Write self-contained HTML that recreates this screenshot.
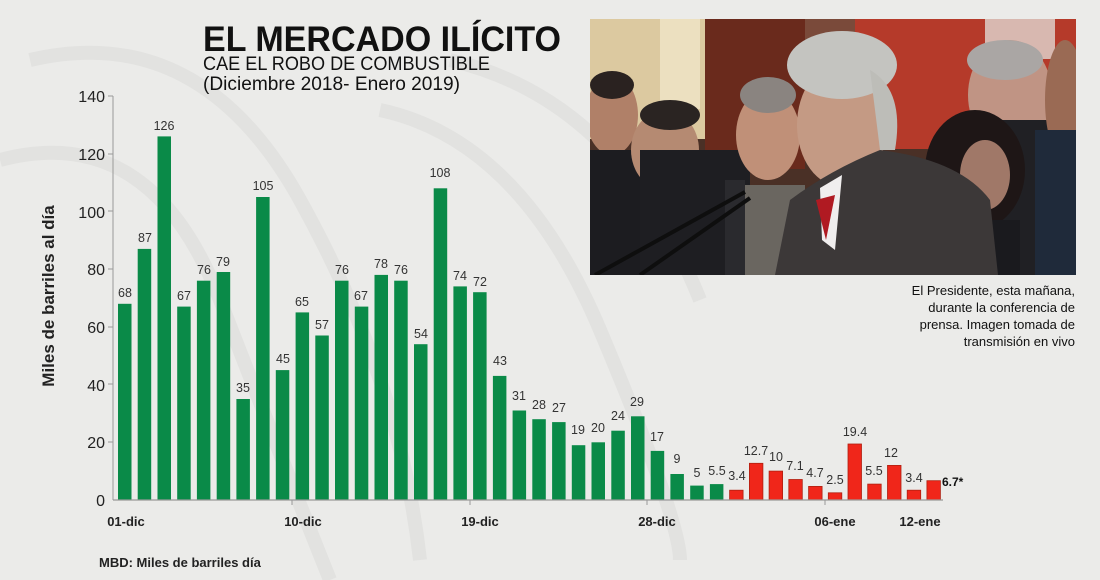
<!DOCTYPE html>
<html><head><meta charset="utf-8"><style>
body{margin:0;width:1100px;height:580px;background:#ebebe9;overflow:hidden;font-family:"Liberation Sans",sans-serif;}
</style></head><body>
<svg width="1100" height="580" xmlns="http://www.w3.org/2000/svg" style="position:absolute;left:0;top:0">
<g fill="none" stroke="#e2e2e0" stroke-width="14">
<path d="M30 60 Q200 20 300 200 T420 560"/>
<path d="M0 160 Q150 120 220 300 T330 580"/>
<path d="M380 110 Q520 140 600 330 T680 560"/>
<path d="M450 60 Q620 100 700 300"/>
</g>
<text x="203" y="51" font-size="35" font-weight="bold" fill="#111" textLength="358" lengthAdjust="spacingAndGlyphs">EL MERCADO ILÍCITO</text>
<text x="203" y="70" font-size="19" fill="#111" textLength="287" lengthAdjust="spacingAndGlyphs">CAE EL ROBO DE COMBUSTIBLE</text>
<text x="203" y="90" font-size="19" fill="#111" textLength="257" lengthAdjust="spacingAndGlyphs">(Diciembre 2018- Enero 2019)</text>

<!-- photo -->
<svg x="590" y="19" width="486" height="256" viewBox="590 19 486 256">
<rect x="590" y="19" width="486" height="256" fill="#4a3026"/>
<rect x="590" y="19" width="120" height="120" fill="#dcc9a0"/>
<rect x="660" y="19" width="40" height="90" fill="#ece0c0"/>
<rect x="705" y="19" width="100" height="150" fill="#6a2a1c"/>
<rect x="805" y="19" width="60" height="100" fill="#7a4a3a"/>
<rect x="855" y="19" width="221" height="130" fill="#b53a2a"/>
<rect x="985" y="19" width="70" height="40" fill="#d8b8b0"/>
<ellipse cx="612" cy="115" rx="26" ry="40" fill="#b08068"/>
<ellipse cx="612" cy="85" rx="22" ry="14" fill="#2a2220"/>
<rect x="590" y="150" width="80" height="125" fill="#1c1c20"/>
<ellipse cx="665" cy="150" rx="34" ry="40" fill="#b58a72"/>
<ellipse cx="670" cy="115" rx="30" ry="15" fill="#2a2422"/>
<rect x="640" y="150" width="110" height="125" fill="#1e1e22"/>
<ellipse cx="768" cy="135" rx="32" ry="45" fill="#c09078"/>
<ellipse cx="768" cy="95" rx="28" ry="18" fill="#8a8480"/>
<rect x="735" y="185" width="70" height="90" fill="#6a6660"/>
<rect x="725" y="180" width="20" height="95" fill="#2a2a2e"/>
<ellipse cx="1010" cy="95" rx="42" ry="55" fill="#c09484"/>
<ellipse cx="1005" cy="60" rx="38" ry="20" fill="#aaa6a4"/>
<rect x="1000" y="120" width="60" height="155" fill="#202024"/>
<ellipse cx="975" cy="170" rx="50" ry="60" fill="#1e1616"/>
<ellipse cx="985" cy="175" rx="25" ry="35" fill="#a07868"/>
<rect x="950" y="220" width="70" height="55" fill="#1a1a1e"/>
<ellipse cx="1065" cy="100" rx="20" ry="60" fill="#9a6a54"/>
<rect x="1035" y="130" width="41" height="145" fill="#1f2a3a"/>
<ellipse cx="842" cy="125" rx="45" ry="62" fill="#c49a84"/>
<ellipse cx="842" cy="65" rx="55" ry="34" fill="#c4c4c0"/>
<path d="M870 70 Q905 90 895 150 L880 150 Z" fill="#bdbdb8"/>
<path d="M775 275 L790 200 Q830 170 880 150 Q960 160 990 200 L998 275 Z" fill="#3c3838"/>
<path d="M820 188 L842 175 L835 250 L822 240 Z" fill="#f0eeee"/>
<path d="M816 200 L835 195 L826 240 Z" fill="#b01a22"/>
<path d="M595 275 L745 192" stroke="#0e0e0e" stroke-width="4"/>
<path d="M640 275 L750 198" stroke="#0e0e0e" stroke-width="4"/>
</svg>

<g font-size="13" fill="#111" text-anchor="end">
<text x="1075" y="295">El Presidente, esta mañana,</text>
<text x="1075" y="312">durante la conferencia de</text>
<text x="1075" y="329">prensa. Imagen tomada de</text>
<text x="1075" y="346">transmisión en vivo</text>
</g>

<g font-size="16" fill="#222" text-anchor="end">
<text x="105" y="102">140</text><text x="105" y="160">120</text><text x="105" y="218">100</text>
<text x="105" y="275">80</text><text x="105" y="333">60</text><text x="105" y="391">40</text>
<text x="105" y="448">20</text><text x="105" y="506">0</text>
</g>
<text transform="translate(54,296) rotate(-90)" font-size="17" font-weight="bold" fill="#222" text-anchor="middle">Miles de barriles al día</text>
<line x1="113" y1="96" x2="113" y2="500" stroke="#999" stroke-width="1"/>
<g stroke="#999"><line x1="108" y1="96" x2="113" y2="96"/><line x1="108" y1="154" x2="113" y2="154"/><line x1="108" y1="211" x2="113" y2="211"/><line x1="108" y1="269" x2="113" y2="269"/><line x1="108" y1="327" x2="113" y2="327"/><line x1="108" y1="384" x2="113" y2="384"/><line x1="108" y1="442" x2="113" y2="442"/>
<line x1="292" y1="500" x2="292" y2="505"/><line x1="470" y1="500" x2="470" y2="505"/><line x1="647" y1="500" x2="647" y2="505"/><line x1="825" y1="500" x2="825" y2="505"/></g>

<g fill="#0a8a48">
<rect x="118" y="303.8" width="13.5" height="196.2"/><rect x="137.7" y="248.9" width="13.5" height="251.1"/><rect x="157.5" y="136.4" width="13.5" height="363.6"/><rect x="177.2" y="306.6" width="13.5" height="193.4"/><rect x="196.9" y="280.7" width="13.5" height="219.3"/><rect x="216.7" y="272" width="13.5" height="228"/><rect x="236.4" y="399" width="13.5" height="101"/><rect x="256.1" y="197" width="13.5" height="303"/><rect x="275.8" y="370.1" width="13.5" height="129.9"/><rect x="295.6" y="312.4" width="13.5" height="187.6"/><rect x="315.3" y="335.5" width="13.5" height="164.5"/><rect x="335" y="280.7" width="13.5" height="219.3"/><rect x="354.8" y="306.6" width="13.5" height="193.4"/><rect x="374.5" y="274.9" width="13.5" height="225.1"/><rect x="394.2" y="280.7" width="13.5" height="219.3"/><rect x="414" y="344.2" width="13.5" height="155.8"/><rect x="433.7" y="188.3" width="13.5" height="311.7"/><rect x="453.4" y="286.4" width="13.5" height="213.6"/><rect x="473.1" y="292.2" width="13.5" height="207.8"/><rect x="492.9" y="375.9" width="13.5" height="124.1"/><rect x="512.6" y="410.5" width="13.5" height="89.5"/><rect x="532.3" y="419.2" width="13.5" height="80.8"/><rect x="552.1" y="422.1" width="13.5" height="77.9"/><rect x="571.8" y="445.2" width="13.5" height="54.8"/><rect x="591.5" y="442.3" width="13.5" height="57.7"/><rect x="611.3" y="430.7" width="13.5" height="69.3"/><rect x="631" y="416.3" width="13.5" height="83.7"/><rect x="650.7" y="450.9" width="13.5" height="49.1"/><rect x="670.4" y="474" width="13.5" height="26"/><rect x="690.2" y="485.6" width="13.5" height="14.4"/><rect x="709.9" y="484.1" width="13.5" height="15.9"/>
</g>
<g fill="#f0261a" stroke="#b02010" stroke-width="0.8">
<rect x="729.6" y="490.2" width="13.5" height="9.8"/><rect x="749.4" y="463.3" width="13.5" height="36.7"/><rect x="769.1" y="471.1" width="13.5" height="28.9"/><rect x="788.8" y="479.5" width="13.5" height="20.5"/><rect x="808.6" y="486.4" width="13.5" height="13.6"/><rect x="828.3" y="492.8" width="13.5" height="7.2"/><rect x="848" y="444" width="13.5" height="56"/><rect x="867.7" y="484.1" width="13.5" height="15.9"/><rect x="887.5" y="465.4" width="13.5" height="34.6"/><rect x="907.2" y="490.2" width="13.5" height="9.8"/><rect x="926.9" y="480.7" width="13.5" height="19.3"/>
</g>
<line x1="113" y1="500" x2="943" y2="500" stroke="#999" stroke-width="1.2"/>

<g font-size="12.5" fill="#333" text-anchor="middle">
<text x="125" y="297">68</text><text x="145" y="242">87</text><text x="164" y="130">126</text><text x="184" y="300">67</text><text x="204" y="274">76</text><text x="223" y="266">79</text><text x="243" y="392">35</text><text x="263" y="190">105</text><text x="283" y="363">45</text><text x="302" y="306">65</text><text x="322" y="329">57</text><text x="342" y="274">76</text><text x="361" y="300">67</text><text x="381" y="268">78</text><text x="401" y="274">76</text><text x="421" y="338">54</text><text x="440" y="177">108</text><text x="460" y="280">74</text><text x="480" y="286">72</text><text x="500" y="365">43</text><text x="519" y="400">31</text><text x="539" y="409">28</text><text x="559" y="412">27</text><text x="578" y="434">19</text><text x="598" y="432">20</text><text x="618" y="420">24</text><text x="637" y="406">29</text><text x="657" y="441">17</text><text x="677" y="463">9</text><text x="697" y="477">5</text><text x="717" y="475">5.5</text><text x="737" y="480">3.4</text><text x="756" y="455">12.7</text><text x="776" y="461">10</text><text x="795" y="470">7.1</text><text x="815" y="477">4.7</text><text x="835" y="484">2.5</text><text x="855" y="436">19.4</text><text x="874" y="475">5.5</text><text x="891" y="457">12</text><text x="914" y="482">3.4</text>
</g>
<text x="942" y="486" font-size="12" font-weight="bold" fill="#111">6.7*</text>

<g font-size="13" font-weight="bold" fill="#222" text-anchor="middle">
<text x="126" y="526">01-dic</text><text x="303" y="526">10-dic</text><text x="480" y="526">19-dic</text><text x="657" y="526">28-dic</text><text x="835" y="526">06-ene</text><text x="920" y="526">12-ene</text>
</g>
<text x="99" y="567" font-size="13" font-weight="bold" fill="#222">MBD: Miles de barriles día</text>
</svg>
</body></html>
